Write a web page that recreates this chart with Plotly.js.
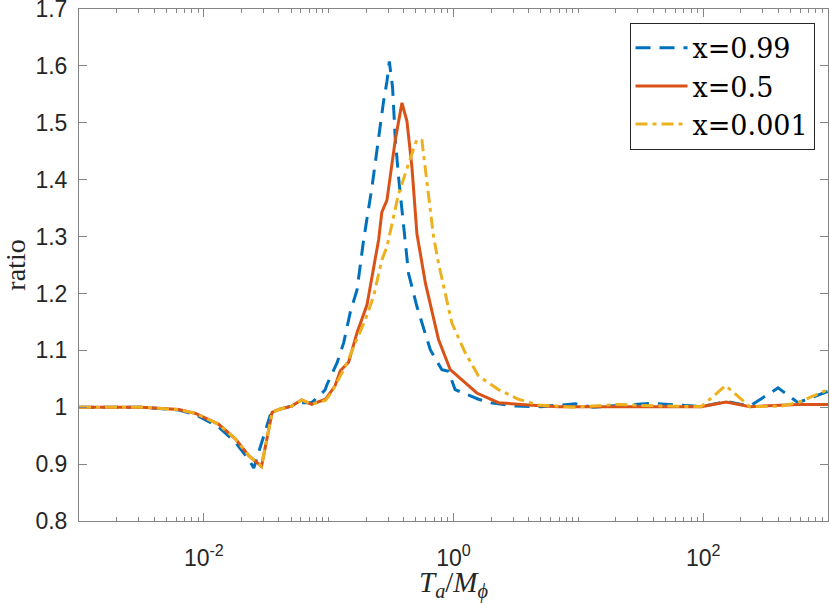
<!DOCTYPE html>
<html>
<head>
<meta charset="utf-8">
<script src="https://cdn.plot.ly/plotly-3.0.1.min.js"></script>
<style>
  html, body { margin: 0; padding: 0; background: #fff; }
  #chart { width: 830px; height: 603px; }
</style>
</head>
<body>
<div id="chart"></div>
<script>
// ---- data (x = T_a / M_phi, y = ratio) ----
const seriesNames = ['x=0.99', 'x=0.5', 'x=0.001'];

const x099 = [0.001, 0.003162, 0.00631, 0.00859, 0.01318, 0.01795, 0.02291, 0.02512, 0.03388, 0.03802,
  0.05012, 0.06081, 0.07311, 0.09333, 0.09705, 0.1167, 0.1318, 0.1493, 0.1687, 0.1905, 0.2223,
  0.2512, 0.2754, 0.2931, 0.3062, 0.3251, 0.3412, 0.3631, 0.3981, 0.4365, 0.5093, 0.6516, 0.8072,
  0.912, 1.030, 1.585, 1.995, 3.162, 5.012, 6.918, 9.462, 13.18, 38.37, 96.38, 153.5, 236.6,
  398.1, 575.4, 1000];
const y099 = [1.000, 1.000, 0.995, 0.987, 0.965, 0.938, 0.908, 0.893, 0.985, 0.995,
  1.002, 1.008, 1.008, 1.030, 1.040, 1.078, 1.113, 1.168, 1.206, 1.294, 1.387,
  1.474, 1.538, 1.573, 1.608, 1.562, 1.474, 1.404, 1.323, 1.235, 1.177, 1.101, 1.066,
  1.063, 1.031, 1.014, 1.008, 1.002, 1.001, 1.003, 1.006, 1.000, 1.007, 1.001, 1.010, 1.002,
  1.034, 1.008, 1.028];

const x05 = [0.001, 0.003162, 0.00631, 0.00859, 0.01318, 0.01795, 0.02291, 0.02897, 0.03524, 0.03981,
  0.05058, 0.06081, 0.07311, 0.09419, 0.1122, 0.1239, 0.1445, 0.1687, 0.2028, 0.2512, 0.2667,
  0.2931, 0.3412, 0.3864, 0.4236, 0.4645, 0.5093, 0.5957, 0.7586, 0.9419, 1.538, 2.291, 3.981,
  6.918, 31.62, 96.38, 152.8, 237.7, 575.4, 1000];
const y05 = [1.000, 1.000, 0.996, 0.989, 0.970, 0.944, 0.915, 0.896, 0.991, 0.996,
  1.002, 1.013, 1.005, 1.014, 1.037, 1.064, 1.079, 1.131, 1.180, 1.294, 1.343,
  1.364, 1.469, 1.535, 1.503, 1.422, 1.305, 1.218, 1.119, 1.066, 1.025, 1.008, 1.004,
  1.001, 1.001, 1.001, 1.009, 1.001, 1.005, 1.005];

const x0001 = [0.001, 0.003162, 0.00631, 0.00859, 0.01318, 0.01795, 0.02291, 0.02897, 0.03524, 0.03981,
  0.05058, 0.06081, 0.07311, 0.09419, 0.1057, 0.1361, 0.1637, 0.1968, 0.2291, 0.2667, 0.2931,
  0.3631, 0.4365, 0.5093, 0.5585, 0.6124, 0.6918, 0.7586, 0.9705, 1.239, 1.585, 2.291, 3.311,
  4.786, 9.12, 20.89, 31.62, 96.38, 151.4, 236.6, 422.7, 575.4, 1000];
const y0001 = [1.000, 1.000, 0.996, 0.989, 0.970, 0.944, 0.915, 0.896, 0.991, 0.996,
  1.002, 1.013, 1.005, 1.012, 1.026, 1.072, 1.113, 1.154, 1.195, 1.259, 1.282,
  1.375, 1.428, 1.471, 1.469, 1.393, 1.300, 1.253, 1.148, 1.096, 1.055, 1.031, 1.014,
  1.004, 1.000, 1.005, 1.003, 1.001, 1.038, 1.001, 1.002, 1.008, 1.031];

const xTickVals = [0.01, 1, 100];
const xTickText = ['10<sup>-2</sup>', '10<sup>0</sup>', '10<sup>2</sup>'];
const yTickVals = [0.8, 0.9, 1, 1.1, 1.2, 1.3, 1.4, 1.5, 1.6, 1.7];
const yTickText = ['0.8', '0.9', '1', '1.1', '1.2', '1.3', '1.4', '1.5', '1.6', '1.7'];

// minor ticks: 2..9 x 10^n, plus the unlabelled decades
const xMinor = [];
for (let e = -3; e < 3; e++) {
  for (let k = 1; k <= 9; k++) {
    if (k === 1 && (e === -3 || e === -2 || e === 0 || e === 2)) continue;
    xMinor.push(k * Math.pow(10, e));
  }
}

const axisGray = '#858585';
const textCol = '#262626';

const traces = [
  { x: x099, y: y099, name: seriesNames[0], mode: 'lines', type: 'scatter',
    line: { color: '#0072BD', width: 3, dash: '15px,9px' } },
  { x: x05, y: y05, name: seriesNames[1], mode: 'lines', type: 'scatter',
    line: { color: '#D95319', width: 3 } },
  { x: x0001, y: y0001, name: seriesNames[2], mode: 'lines', type: 'scatter',
    line: { color: '#EDB120', width: 3, dash: '12px,5px,4px,5px' } }
];

const layout = {
  width: 830, height: 603,
  margin: { l: 79, r: 2, t: 9, b: 82 },
  paper_bgcolor: '#ffffff', plot_bgcolor: '#ffffff',
  showlegend: true,
  xaxis: {
    type: 'log', range: [-3, 3],
    showgrid: false, zeroline: false,
    showline: true, linecolor: axisGray, linewidth: 1, mirror: 'ticks',
    ticks: 'inside', ticklen: 8, tickcolor: axisGray, tickwidth: 1,
    tickmode: 'array', tickvals: xTickVals, ticktext: xTickText,
    tickfont: { family: 'Liberation Sans, Arial, sans-serif', size: 23, color: textCol },
    ticklabelstandoff: 16,
    minor: { tickmode: 'array', tickvals: xMinor, ticks: 'inside', ticklen: 4,
             tickcolor: axisGray, tickwidth: 1, showgrid: false },
    title: { text: '<i>T</i><sub><i>a</i></sub>/<i>M</i><sub><i>ϕ</i></sub>',
             font: { family: 'Liberation Serif, serif', size: 29, color: textCol }, standoff: 4 }
  },
  yaxis: {
    range: [0.8, 1.7],
    showgrid: false, zeroline: false,
    showline: true, linecolor: axisGray, linewidth: 1, mirror: 'ticks',
    ticks: 'inside', ticklen: 8, tickcolor: axisGray, tickwidth: 1,
    tickmode: 'array', tickvals: yTickVals, ticktext: yTickText,
    ticklabeloverflow: 'allow',
    tickfont: { family: 'Liberation Sans, Arial, sans-serif', size: 23, color: textCol },
    ticklabelstandoff: 6,
    title: { text: 'ratio', font: { family: 'Liberation Serif, serif', size: 28, color: textCol }, standoff: 2 }
  },
  legend: {
    x: 0.735, y: 0.973, xanchor: 'left', yanchor: 'top',
    bgcolor: '#ffffff', bordercolor: textCol, borderwidth: 1,
    itemwidth: 52,
    font: { family: 'DejaVu Serif, serif', size: 27, color: '#000000' }
  }
};

Plotly.newPlot('chart', traces, layout, { displayModeBar: false, staticPlot: true });
</script>
</body>
</html>
